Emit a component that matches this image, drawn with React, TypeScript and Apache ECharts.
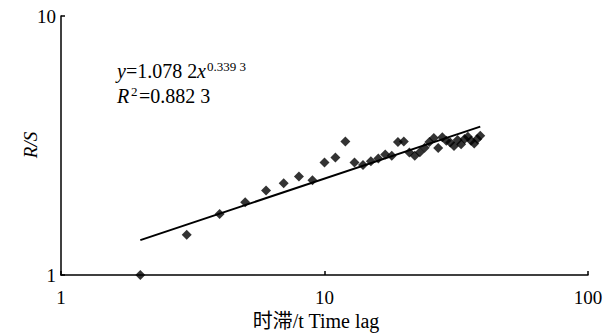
import React, { useEffect, useRef } from "react";
import * as echarts from "echarts";

const lagX = [2, 3, 4, 5, 6, 7, 8, 9, 10, 11, 12, 13, 14, 15, 16, 17, 18, 19, 20, 21, 22, 23, 24, 25, 26, 27, 28, 29, 30, 31, 32, 33, 34, 35, 36, 37, 38, 39];
const rsY = [1.0, 1.43, 1.72, 1.91, 2.12, 2.26, 2.4, 2.32, 2.72, 2.84, 3.28, 2.72, 2.66, 2.75, 2.82, 2.92, 2.89, 3.26, 3.28, 2.97, 2.89, 2.98, 3.1, 3.26, 3.38, 3.09, 3.4, 3.3, 3.25, 3.15, 3.32, 3.2, 3.35, 3.42, 3.3, 3.22, 3.35, 3.45];
const fitX = [2, 39];
const fitY = [1.364, 3.74];
const xTicks = ["1", "10", "100"];

const SERIF = "Liberation Serif, Noto Sans CJK SC, serif";

function txt(text: string, x: number, y: number, size: number, italic = false) {
  return {
    type: "text",
    x,
    y,
    style: {
      text,
      fontFamily: SERIF,
      fontSize: size,
      fontStyle: italic ? "italic" : "normal",
      fill: "#000",
      align: "left",
      verticalAlign: "middle",
    },
  };
}

export default function App() {
  const ref = useRef<HTMLDivElement>(null);
  useEffect(() => {
    const chart = echarts.init(ref.current!, null, { renderer: "svg" });
    const pts = lagX.map((x, i) => [x, rsY[i]]);
    const fit = fitX.map((x, i) => [x, fitY[i]]);
    chart.setOption({
      animation: false,
      backgroundColor: "#fff",
      textStyle: { fontFamily: SERIF },
      grid: { left: 61, right: 24, top: 16, bottom: 59 },
      xAxis: {
        type: "log",
        logBase: 10,
        min: 1,
        max: 100,
        axisLine: { lineStyle: { color: "#000", width: 1.5 } },
        axisTick: { inside: true, length: 4, lineStyle: { color: "#000", width: 1.5 } },
        minorTick: { show: false },
        splitLine: { show: false },
        axisLabel: {
          color: "#000",
          fontFamily: SERIF,
          fontSize: 19,
          margin: 13,
          formatter: (v: number) => (xTicks.includes(String(v)) ? String(v) : ""),
        },
      },
      yAxis: {
        type: "log",
        logBase: 10,
        min: 1,
        max: 10,
        axisLine: { lineStyle: { color: "#000", width: 1.5 } },
        axisTick: { inside: true, length: 4, lineStyle: { color: "#000", width: 1.5 } },
        splitLine: { show: false },
        axisLabel: { color: "#000", fontFamily: SERIF, fontSize: 19, margin: 5 },
      },
      graphic: [
        txt("y", 117, 71, 20, true),
        txt("=1.078 2", 126, 71, 20),
        txt("x", 197, 71, 20, true),
        txt("0.339 3", 207, 66, 13),
        txt("R", 117, 96, 20, true),
        txt("2", 131, 91, 13),
        txt("=0.882 3", 139, 96, 20),
        {
          type: "text",
          x: 30,
          y: 145,
          rotation: Math.PI / 2,
          style: {
            text: "R/S",
            fontFamily: SERIF,
            fontSize: 19,
            fontStyle: "italic",
            fill: "#000",
            align: "center",
            verticalAlign: "middle",
          },
        },
        {
          type: "text",
          x: 316,
          y: 321,
          style: {
            text: "时滞/t Time lag",
            fontFamily: SERIF,
            fontSize: 20,
            fill: "#000",
            align: "center",
            verticalAlign: "middle",
          },
        },
      ],
      series: [
        {
          type: "line",
          data: fit,
          showSymbol: false,
          symbol: "none",
          lineStyle: { color: "#000", width: 2 },
          z: 2,
        },
        {
          type: "scatter",
          data: pts,
          symbol: "diamond",
          symbolSize: 10,
          itemStyle: { color: "#000" },
          z: 3,
        },
      ],
    });
    return () => chart.dispose();
  }, []);
  return (
    <div
      ref={ref}
      style={{ position: "fixed", left: 0, top: 0, width: 612, height: 334 }}
    />
  );
}
